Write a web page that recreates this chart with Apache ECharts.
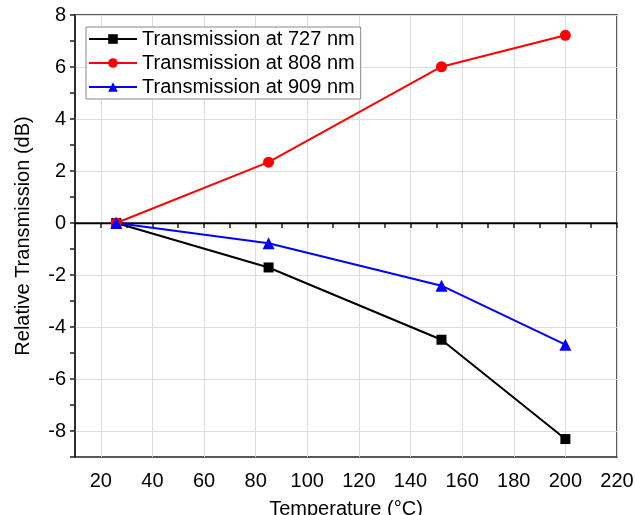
<!DOCTYPE html>
<html lang="en">
  <head>
    <meta charset="UTF-8" />
    <title>Relative Transmission vs Temperature</title>
    <script src="https://cdn.jsdelivr.net/npm/echarts@6/dist/echarts.min.js"></script>
    <style>
      body { margin: 0; background: #ffffff; }
      #chart { width: 635px; height: 515px; }
    </style>
  </head>
  <body>
    <div id="chart"></div>
    <script>
      const chart = echarts.init(document.getElementById("chart"));

      // temperature points (°C)
      var temps = [26, 85, 152, 200];
      var t727 = [0, -1.71, -4.49, -8.31];
      var t808 = [0, 2.34, 6.01, 7.22];
      var t909 = [0, -0.78, -2.41, -4.68];

      var font = "Liberation Sans, Arial, sans-serif";

      function pairs(ys) {
        return temps.map(function (t, i) { return [t, ys[i]]; });
      }

      function makeSeries(name, ys, color, symbol, size) {
        return {
          name: name,
          type: "line",
          data: pairs(ys),
          symbol: symbol,
          symbolSize: size,
          color: color,
          lineStyle: { color: color, width: 2 },
          itemStyle: { color: color },
          z: 3,
        };
      }

      var series = [
        makeSeries("Transmission at 727 nm", t727, "#000000", "rect", 10),
        makeSeries("Transmission at 808 nm", t808, "#ff0000", "circle", 11),
        makeSeries("Transmission at 909 nm", t909, "#0000ff", "triangle", 12),
      ];
      // zero reference line
      series[0].markLine = {
        silent: true,
        symbol: "none",
        label: { show: false },
        lineStyle: { color: "#000000", width: 1.3, type: "solid" },
        data: [{ yAxis: 0 }],
        z: 2,
      };

      const options = {
        animation: false,
        grid: {
          left: 75,
          right: 18,
          top: 15,
          bottom: 58,
          outerBoundsMode: "none",
          containLabel: false,
          show: true,
          borderColor: "#222",
          borderWidth: 1.5,
        },
        legend: {
          orient: "vertical",
          left: 86,
          top: 27,
          itemWidth: 48,
          itemHeight: 12,
          itemGap: 4,
          padding: [2, 6, 2, 2],
          borderColor: "#888",
          borderWidth: 1,
          backgroundColor: "#fff",
          textStyle: { fontFamily: font, fontSize: 20, color: "#000", lineHeight: 20 },
        },
        xAxis: {
          type: "value",
          min: 10,
          max: 220,
          interval: 10,
          name: "Temperature (°C)",
          nameLocation: "middle",
          nameGap: 42,
          nameTextStyle: { fontFamily: font, fontSize: 20, color: "#000" },
          axisLine: { lineStyle: { color: "#222", width: 1.5 } },
          axisTick: { length: 5, lineStyle: { color: "#222", width: 1.5 } },
          axisLabel: {
            fontFamily: font,
            fontSize: 20,
            color: "#000",
            margin: 14,
            formatter: function (v) { return v % 20 === 0 ? v : ""; },
          },
          splitLine: {
            show: true,
            lineStyle: { color: ["rgba(0,0,0,0)", "#dddddd"], width: 1 },
          },
        },
        yAxis: {
          type: "value",
          min: -9,
          max: 8,
          interval: 1,
          name: "Relative Transmission (dB)",
          nameLocation: "middle",
          nameGap: 42,
          nameTextStyle: { fontFamily: font, fontSize: 20, color: "#000" },
          axisLine: { lineStyle: { color: "#222", width: 1.5 } },
          axisTick: { length: 5, lineStyle: { color: "#222", width: 1.5 } },
          axisLabel: {
            fontFamily: font,
            fontSize: 20,
            color: "#000",
            margin: 9,
            formatter: function (v) { return v % 2 === 0 ? v : ""; },
          },
          splitLine: {
            show: true,
            lineStyle: { color: ["rgba(0,0,0,0)", "#dddddd"], width: 1 },
          },
        },
        series: series,
      };

      chart.setOption(options);
    </script>
  </body>
</html>
